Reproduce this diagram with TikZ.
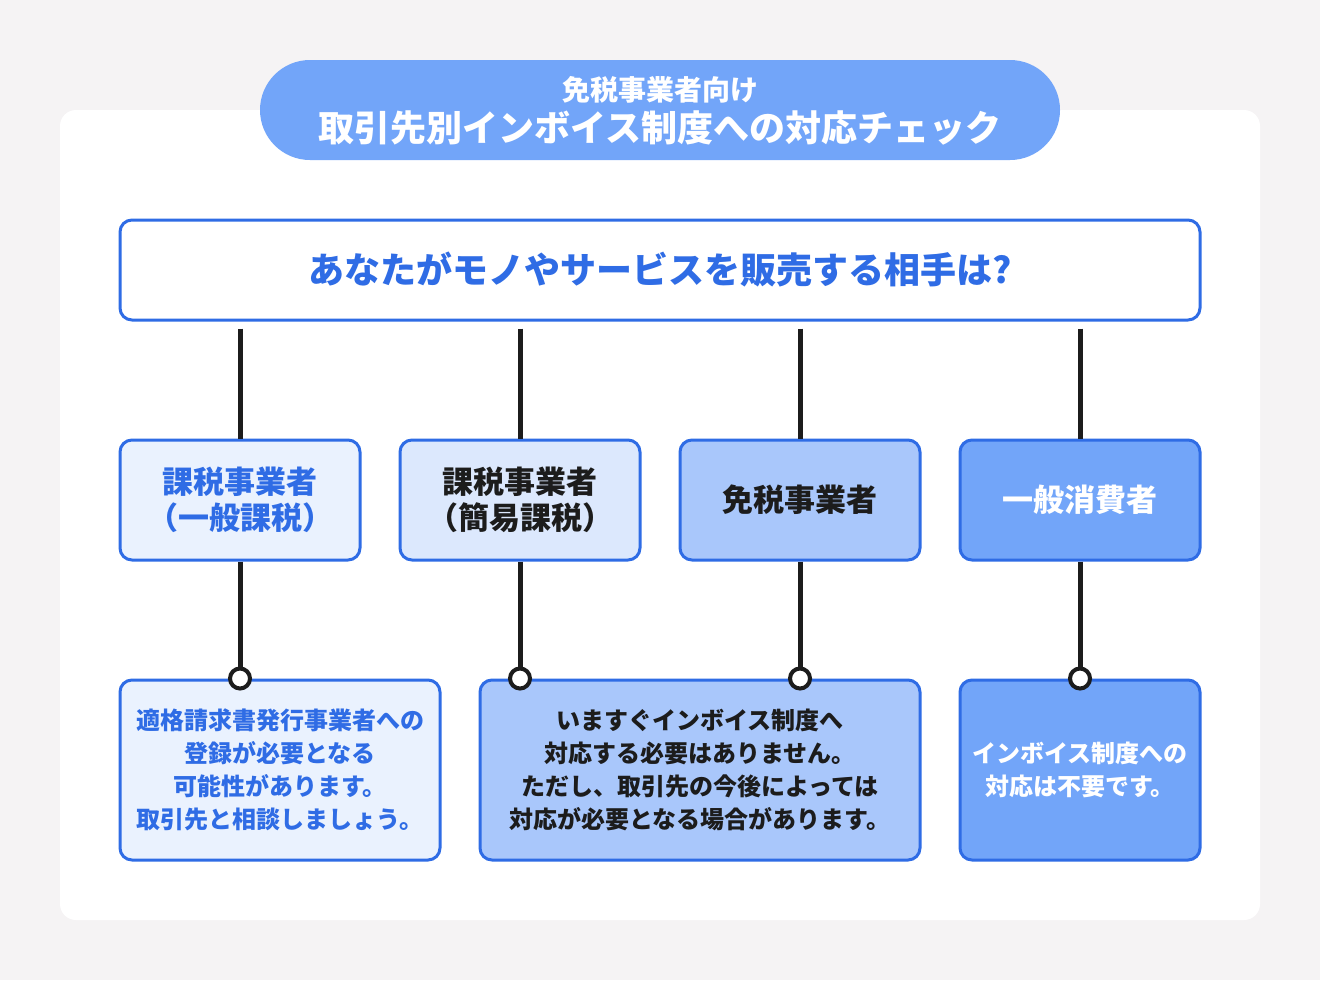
\documentclass[tikz,border=0pt]{standalone}
\usepackage{fontspec}
\setmainfont{Noto Sans CJK JP}
\definecolor{bgGray}{HTML}{F5F3F4}
\definecolor{lineBlue}{HTML}{2F6CE5}
\definecolor{paleBlue}{HTML}{EAF2FE}
\definecolor{softBlue}{HTML}{DCE8FD}
\definecolor{midBlue}{HTML}{A9C7FB}
\definecolor{deepBlue}{HTML}{72A5F9}
\definecolor{ink}{HTML}{1C1C1C}
\tikzset{
  box/.style={draw=lineBlue, line width=1.5pt, rounded corners=6pt, align=center, inner sep=0pt},
  catbox/.style={box, minimum width=120pt, minimum height=60pt, font=\bfseries\fontsize{15.5}{18}\selectfont},
  ansbox/.style={box, minimum height=90pt, font=\bfseries\fontsize{12}{16.5}\selectfont},
  conn/.style={line width=2.5pt, color=ink},
  ring/.style={circle, draw=ink, line width=2pt, fill=white, minimum size=10pt, inner sep=0pt}
}
\begin{document}
\begin{tikzpicture}[x=0.5pt,y=-0.5pt]
\fill[bgGray] (0,0) rectangle (1320,980);
\fill[white, rounded corners=8pt] (60,110) rectangle (1260,920);
\node[fill=deepBlue, rounded corners=25pt, minimum width=400pt, minimum height=50pt] (head) at (660,110) {};
\node[text=white, font=\bfseries\fontsize{14}{15}\selectfont] (sub) at (660,90) {免税事業者向け};
\node[text=white, font=\bfseries\fontsize{18}{19}\selectfont] (main) at (660,128) {取引先別インボイス制度への対応チェック};
\node[box, fill=white, minimum width=540pt, minimum height=50pt, text=lineBlue, font=\bfseries\fontsize{18}{20}\selectfont] (q) at (660,270) {あなたがモノやサービスを販売する相手は?};
\node[catbox, fill=paleBlue, text=lineBlue] (c1) at (240,500) {課税事業者\\（一般課税）};
\node[catbox, fill=softBlue, text=ink] (c2) at (520,500) {課税事業者\\（簡易課税）};
\node[catbox, fill=midBlue, text=ink] (c3) at (800,500) {免税事業者};
\node[catbox, fill=deepBlue, text=white] (c4) at (1080,500) {一般消費者};
\node[ansbox, minimum width=160pt, fill=paleBlue, text=lineBlue] (a1) at (280,770) {適格請求書発行事業者への\\登録が必要となる\\可能性があります。\\取引先と相談しましょう。};
\node[ansbox, minimum width=220pt, fill=midBlue, text=ink] (a2) at (700,770) {いますぐインボイス制度へ\\対応する必要はありません。\\ただし、取引先の今後によっては\\対応が必要となる場合があります。};
\node[ansbox, minimum width=120pt, fill=deepBlue, text=white] (a3) at (1080,770) {インボイス制度への\\対応は不要です。};
\node[ring] (r1) at (a1.north -| c1) {};
\node[ring] (r2) at (a2.north -| c2) {};
\node[ring] (r3) at (a2.north -| c3) {};
\node[ring] (r4) at (a3.north -| c4) {};
\foreach \i in {1,2,3,4}{
  \draw[conn] ([yshift=-3.5pt]q.south -| c\i.north) -- (c\i.north);
  \draw[conn] (c\i.south) -- (r\i.north);
}
\end{tikzpicture}
\end{document}
